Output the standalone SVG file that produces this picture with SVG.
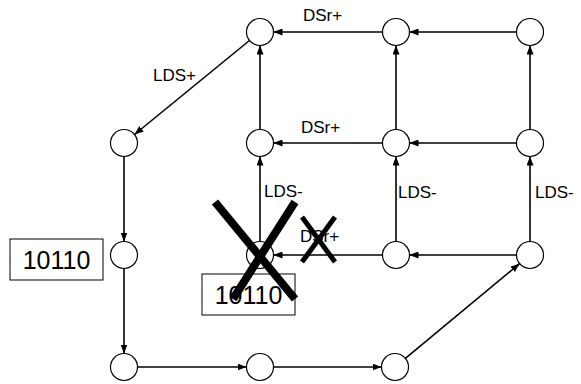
<svg xmlns="http://www.w3.org/2000/svg" width="581" height="384" viewBox="0 0 581 384">
<style>
.n{fill:#fff;stroke:#000;stroke-width:1.2}
.e{stroke:#000;stroke-width:1.6;fill:none;marker-end:url(#a)}
.l{font-family:"Liberation Sans",Arial,sans-serif;font-size:17px;fill:#000}
.b{fill:#fff;stroke:#000;stroke-width:1}
.bt{font-family:"Liberation Sans",Arial,sans-serif;font-size:25px;fill:#000;text-anchor:middle}
.x{stroke:#000;stroke-linecap:butt}
</style>
<defs>
<marker id="a" markerUnits="userSpaceOnUse" markerWidth="9" markerHeight="7" refX="9" refY="3.5" orient="auto">
<path d="M0,0 L9,3.5 L0,7 z" fill="#000"/>
</marker>
</defs>
<rect width="581" height="384" fill="#fff"/>
<g id="connectors">
<line class="e" x1="382.5" y1="32" x2="273.5" y2="32"/>
<line class="e" x1="516.5" y1="32" x2="409.5" y2="32"/>
<line class="e" x1="516.5" y1="143" x2="409.5" y2="143"/>
<line class="e" x1="382.5" y1="143" x2="273.5" y2="143"/>
<line class="e" x1="516.5" y1="255" x2="409.5" y2="255"/>
<line class="e" x1="382.5" y1="255" x2="273.5" y2="255"/>
<line class="e" x1="260" y1="241.5" x2="260" y2="156.5"/>
<line class="e" x1="260" y1="129.5" x2="260" y2="45.5"/>
<line class="e" x1="396" y1="241.5" x2="396" y2="156.5"/>
<line class="e" x1="396" y1="129.5" x2="396" y2="45.5"/>
<line class="e" x1="530" y1="241.5" x2="530" y2="156.5"/>
<line class="e" x1="530" y1="129.5" x2="530" y2="45.5"/>
<line class="e" x1="249.5" y1="40.5" x2="134.5" y2="134.5"/>
<line class="e" x1="124" y1="156.5" x2="124" y2="241.5"/>
<line class="e" x1="124" y1="268.5" x2="124" y2="353.5"/>
<line class="e" x1="137.5" y1="367" x2="246.5" y2="367"/>
<line class="e" x1="273.5" y1="367" x2="381.5" y2="367"/>
<line class="e" x1="405.4" y1="358.4" x2="519.6" y2="263.6"/>
</g>
<g id="labels">
<text class="l" x="303" y="21">DSr+</text>
<text class="l" x="301" y="133">DSr+</text>
<text class="l" x="300" y="242">DSr+</text>
<text class="l" x="153" y="81">LDS+</text>
<text class="l" x="264" y="197">LDS-</text>
<text class="l" x="398" y="198">LDS-</text>
<text class="l" x="535" y="198">LDS-</text>
</g>
<g id="n1"><circle class="n" cx="260" cy="32" r="13.5"/></g>
<g id="n2"><circle class="n" cx="396" cy="32" r="13.5"/></g>
<g id="n3"><circle class="n" cx="530" cy="32" r="13.5"/></g>
<g id="n4"><circle class="n" cx="124" cy="143" r="13.5"/></g>
<g id="n5"><circle class="n" cx="260" cy="143" r="13.5"/></g>
<g id="n6"><circle class="n" cx="396" cy="143" r="13.5"/></g>
<g id="n7"><circle class="n" cx="530" cy="143" r="13.5"/></g>
<g id="n8"><circle class="n" cx="124" cy="255" r="13.5"/></g>
<g id="n9"><circle class="n" cx="260" cy="255" r="13.5"/></g>
<g id="n10"><circle class="n" cx="396" cy="255" r="13.5"/></g>
<g id="n11"><circle class="n" cx="530" cy="255" r="13.5"/></g>
<g id="n12"><circle class="n" cx="124" cy="367" r="13.5"/></g>
<g id="n13"><circle class="n" cx="260" cy="367" r="13.5"/></g>
<g id="n14"><circle class="n" cx="395" cy="367" r="13.5"/></g>
<g id="box1"><rect class="b" x="10" y="239" width="93" height="41"/><text class="bt" x="56.5" y="269">10110</text></g>
<g id="box2"><rect class="b" x="202" y="274" width="93" height="41"/><text class="bt" x="248.5" y="304">10110</text></g>
<g id="crosses">
<line class="x" x1="215" y1="202" x2="295" y2="299" stroke-width="8"/>
<line class="x" x1="295" y1="202" x2="233" y2="299" stroke-width="8"/>
<line class="x" x1="302" y1="217" x2="335" y2="262" stroke-width="5"/>
<line class="x" x1="335" y1="217" x2="302" y2="262" stroke-width="5"/>
</g>
</svg>
